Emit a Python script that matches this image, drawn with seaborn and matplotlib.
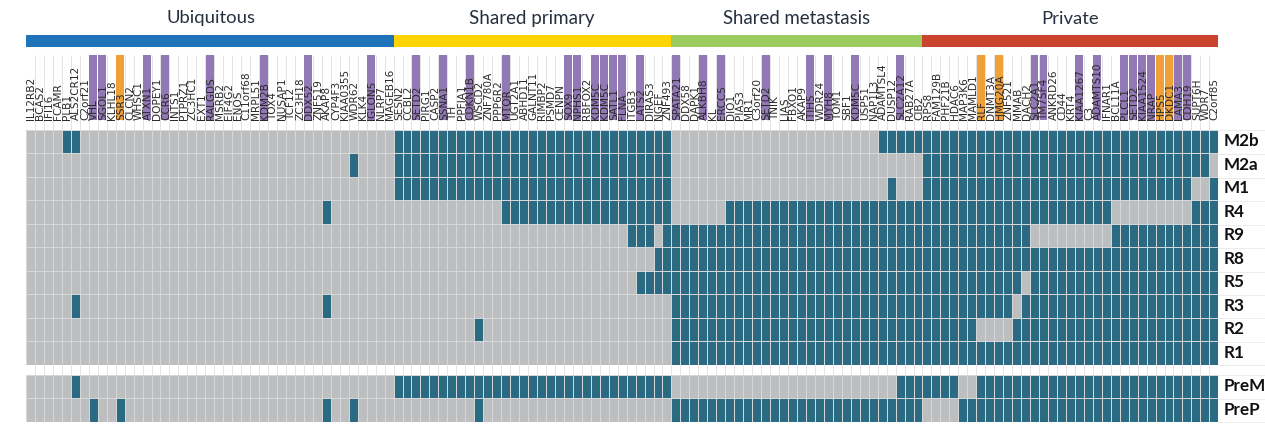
import matplotlib
matplotlib.use("Agg")
import matplotlib.pyplot as plt
import matplotlib.transforms as mtrans
import numpy as np
import pandas as pd
import seaborn as sns
from matplotlib.colors import ListedColormap

W, H = 1265, 442

genes_ubiquitous = ["IL12RB2","BCAS2","IFI16","FCAMR","PLB1","ALS2CR12","C2orf21","VHL","SGOL1","KLHL18","SSR3",
    "CLCN2","WHSC1","ATXN1","DOPEY1","CCR6","INTS1","PTPRZ1","ZC3HC1","EXT1","RALGDS","MSRB2","EIF4G2","ENOS",
    "C11orf68","MRPL51","KDM2B","TOX4","NUSAP1","TCF12","ZC3H18","DDX52","ZNF519","AKAP8","CYP4F3","KIAA0355",
    "WDR62","KLK4","IGLON5","NLRP7","MAGEB16"]
genes_primary = ["SESN2","CCBL2","SETD2","PIRG1","CASP2","SSNA1","TH","PPFIA1","CDKN1B","WSCD2","ZNF780A","PPP6R2",
    "MTOR","UGT2A1","ABHD11","GALNT11","RIMBP2","PSMD7","CENPN","SOX9","NPHS1","RBFOX2","KDM5C","KDM5C","SATL1",
    "FLNA","ITGB3","LATS2","DIRAS3","NGEF","ZNF493"]
genes_metastasis = ["SPATA21","DDX58","DAPK1","ALKBH8","KL","ERCC5","DIO1","PIAS3","MR1","C3orf20","SETD2","TNIK",
    "LIAS","FBXO1","AKAP9","ITIH5","WDR24","MYH8","TOM1","SBF1","KDM5C","USP51","NAP1L3","ADAMTSL4","DUSP12",
    "SLC2A12","RAB27A","CIB2"]
genes_private = ["RPS8","FAM129B","PHF21B","HDAC6","MAP3K6","MAMLD1","RLF","DNMT3A","HMG20A","ZNF521","MMAB","DACH2",
    "SLC2A1","TM7SF4","ANKRD26","CD44","KRT4","KIAA1267","C3","ADAMTS10","IFNAR1","BCL11A","PLCL1","SETD2",
    "KIAA1524","NRAP","HPS5","DKDC1","LAMA3","CDH19","SUPT6H","WDR7","C2orf85"]
groups = ["Ubiquitous", "Shared primary", "Shared metastasis", "Private"]
genes = genes_ubiquitous + genes_primary + genes_metastasis + genes_private

purple_idx = [7,8,13,15,20,26,31,38,43,46,49,53,60,61,63,64,65,66,68,72,75,77,82,87,89,92,97,
              112,113,117,119,122,123,124,125,128,129]
orange_idx = [10,106,108,126,127]

# teal cells: inclusive column ranges per sample
upper_rows = ["M2b","M2a","M1","R4","R9","R8","R5","R3","R2","R1"]
lower_rows = ["PreM","PreP"]
M2b = [(4,5),(41,71),(95,132)]
M2a = [(36,36),(41,71),(100,131)]
M1  = [(41,71),(96,96),(100,129),(132,132)]
R4  = [(33,33),(53,71),(78,120),(130,132)]
R9  = [(67,69),(71,111),(121,132)]
R8  = [(70,132)]
R5  = [(68,110),(112,132)]
R3  = [(5,5),(33,33),(72,109),(111,132)]
R2  = [(50,50),(72,105),(110,132)]
R1  = [(72,132)]
PreM = [(5,5),(41,71),(97,103),(106,132)]
PreP = [(7,7),(10,10),(33,33),(36,36),(50,50),(72,99),(104,132)]

def to_row(ranges):
    r = np.zeros(len(genes), dtype=int)
    for a, b in ranges:
        r[a:b + 1] = 1
    return r

upper = pd.DataFrame([to_row(v) for v in [M2b,M2a,M1,R4,R9,R8,R5,R3,R2,R1]], index=upper_rows)
lower = pd.DataFrame([to_row(v) for v in [PreM,PreP]], index=lower_rows)

GREY, TEAL = "#bdbec0", "#2a6a82"
PURPLE, ORANGE = "#9279b5", "#efa138"
BAND = ["#1f73b9", "#ffd400", "#9ccb5f", "#c9432f"]
GRID = "#d6d7d8"
TXT = "#26303f"
HEAD = ["Lato", "DejaVu Sans"]

sns.set_theme(style="white")
fig = plt.figure(figsize=(W / 100, H / 100), dpi=100, facecolor="white")

L, R = 26, 1218.3
def axes_px(x0, y0, x1, y1, **kw):
    return fig.add_axes([x0 / W, 1 - y1 / H, (x1 - x0) / W, (y1 - y0) / H], **kw)

# background strip with column lines and highlighted gene labels
back = axes_px(L, 55, R, 422)
back.set_xlim(0, len(genes)); back.set_ylim(422, 55); back.axis("off")
back.vlines(np.arange(1, len(genes)), 55, 422, color="#e2e2e2", lw=0.65)
for idx, col in [(purple_idx, PURPLE), (orange_idx, ORANGE)]:
    back.bar(np.array(idx) + 0.5, [65] * len(idx), width=0.88, bottom=55, color=col, zorder=3, linewidth=0)
for y in [129.5, 154.3, 177.7, 201, 224.5, 248, 271.5, 295, 318.2, 341.7, 364.5, 374.5, 398.5, 422]:
    back.hlines(y, len(genes), len(genes) + 5.4, color="#ececec", lw=0.7, clip_on=False)

# category band
band = axes_px(L, 35, R, 47)
band.set_xlim(0, len(genes)); band.set_ylim(0, 1); band.axis("off")
sizes = [len(genes_ubiquitous), len(genes_primary), len(genes_metastasis), len(genes_private)]
band.barh([0.5] * 4, sizes, left=np.cumsum([0] + sizes[:-1]), height=1, color=BAND, linewidth=0)

for g, xc, fs in zip(groups, [210.5, 532, 797, 1070.5], [13.3, 13.5, 13.4, 13.3]):
    fig.text(xc / W, 1 - 18.5 / H, g, ha="center", va="center", fontsize=fs, color=TXT, family=HEAD)

cmap = ListedColormap([GREY, TEAL])
top = axes_px(L, 129.5, R, 364.5)
top.patch.set_alpha(0)
sns.heatmap(upper, ax=top, cmap=cmap, vmin=0, vmax=1, cbar=False, linewidths=0.55, linecolor=GRID,
            xticklabels=genes, yticklabels=upper_rows)
bot = axes_px(L, 374.5, R, 422)
bot.patch.set_alpha(0)
sns.heatmap(lower, ax=bot, cmap=cmap, vmin=0, vmax=1, cbar=False, linewidths=0.55, linecolor=GRID,
            xticklabels=False, yticklabels=lower_rows)

top.xaxis.tick_top()
top.tick_params(axis="x", length=0, pad=6.8)
top.set_xlabel(""); top.set_ylabel("")
shift = mtrans.ScaledTranslation(1 / 100, 0, fig.dpi_scale_trans)
for lab in top.get_xticklabels():
    lab.set(rotation=90, ha="center", va="bottom", fontsize=7.6, color="#2a2a2a", family="DejaVu Sans")
    lab.set_transform(lab.get_transform() + shift)
for ax in (top, bot):
    ax.yaxis.tick_right()
    ax.tick_params(axis="y", length=0, pad=4)
    plt.setp(ax.get_yticklabels(), rotation=0, fontsize=12.3, fontweight="bold", color="#111111",
             family=HEAD, va="center")

fig.savefig("out.png", dpi=100, facecolor="white")
